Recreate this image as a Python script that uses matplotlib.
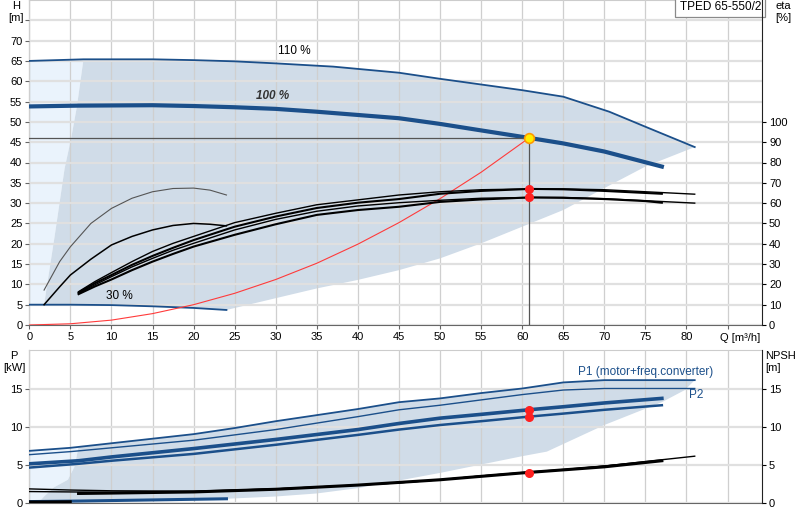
import numpy as np
import matplotlib
matplotlib.use('Agg')
import matplotlib.pyplot as plt

plt.rcParams['font.family'] = ['Liberation Sans', 'DejaVu Sans']
plt.rcParams['font.size'] = 8

BLUE = '#1b4f8a'
SHADE = '#d0dce8'
LIGHT = '#eaf3fc'

# ---- top chart: head curves (Q in m3/h, H in m)
h110_q = [0, 6.6, 15, 20, 25, 30, 37, 45, 50, 55, 60, 65, 70.6, 75, 81]
h110_h = [65.0, 65.4, 65.4, 65.2, 64.9, 64.4, 63.6, 62.1, 60.6, 59.2, 57.8, 56.2, 52.5, 48.8, 43.8]
h100_q = [0, 6, 15, 20, 25, 30, 35, 40, 45, 50, 55, 61, 65, 70, 77]
h100_h = [53.8, 54.0, 54.1, 53.9, 53.6, 53.2, 52.5, 51.7, 50.9, 49.5, 47.9, 46.0, 44.7, 42.7, 39.0]
h30_q = [0, 5, 10, 15, 20, 24]
h30_h = [5.0, 5.0, 4.9, 4.6, 4.2, 3.7]

# operating range edges
area_low_q = [24, 30, 35, 40, 45, 50, 55, 60, 65, 70, 75, 81]
area_low_h = [3.7, 6.6, 9.0, 11.1, 13.5, 16.4, 20.1, 24.2, 28.3, 33.7, 39.0, 43.8]
area_left_q = [1.8, 3.1, 4.3, 5.1, 5.8, 6.6]
area_left_h = [5.0, 22.0, 38.5, 46.0, 53.8, 65.4]

# system curve
sys_q = [0, 5, 10, 15, 20, 25, 30, 35, 40, 45, 50, 55, 60.8]
sys_h = [0, 0.3, 1.2, 2.8, 5.0, 7.8, 11.2, 15.2, 19.9, 25.2, 31.1, 37.6, 46.0]

duty_q = 60.8
duty_h = 46.0

# efficiency curves (eta in %)
etaA_q = [1.8, 3.7, 5, 7.5, 10, 12.5, 15, 17.5, 20, 22, 24]
etaA = [17.2, 31.2, 38.5, 50.0, 57.4, 62.4, 65.6, 67.2, 67.4, 66.4, 64.0]
etaB_q = [1.8, 3.7, 5, 7.5, 10, 12.5, 15, 17.5, 20, 22, 24]
etaB = [10.0, 18.8, 24.6, 32.4, 39.4, 43.6, 46.8, 49.0, 50.0, 49.6, 48.8]
eta_q81 = [6, 8, 10, 12.5, 15, 17.5, 20, 25, 30, 35, 40, 45, 50, 55, 61, 65, 70, 75, 81]
eta_q77 = [6, 8, 10, 12.5, 15, 17.5, 20, 25, 30, 35, 40, 45, 50, 55, 61, 65, 70, 75, 77]
etaU1 = [16.4, 21.4, 25.8, 31.2, 36.2, 40.2, 43.6, 50.4, 55.0, 59.2, 61.6, 64.0, 65.6, 66.6, 67.0, 67.0, 66.6, 65.6, 64.4]
etaU2 = [16.0, 20.6, 24.6, 29.6, 34.0, 38.0, 41.8, 48.4, 53.4, 57.6, 60.2, 62.0, 64.6, 66.0, 67.0, 66.8, 66.0, 65.0, 64.6]
etaL1 = [15.6, 19.8, 23.8, 28.6, 32.8, 36.8, 40.2, 46.8, 52.0, 56.0, 58.6, 60.2, 61.4, 62.4, 62.8, 62.8, 62.2, 61.2, 60.0]
etaL2 = [15.2, 19.0, 22.4, 27.0, 31.2, 35.0, 38.6, 44.4, 49.6, 54.2, 56.6, 58.2, 60.6, 61.8, 62.8, 62.6, 62.0, 61.0, 60.2]
eta_duty = [67.0, 62.8]

# ---- bottom chart: power (kW) and NPSH (m)
p1_110_q = [0, 5, 10, 15, 20, 25, 30, 35, 40, 45, 50, 55, 60, 65, 70, 81]
p1_110 = [6.8, 7.2, 7.8, 8.4, 9.0, 9.8, 10.7, 11.5, 12.3, 13.2, 13.7, 14.4, 15.0, 15.8, 16.1, 16.1]
p2_110_q = [0, 5, 10, 20, 30, 40, 45, 50, 55, 60, 65, 70, 81]
p2_110 = [6.3, 6.7, 7.2, 8.2, 9.6, 11.3, 12.2, 12.8, 13.5, 14.2, 14.8, 15.0, 15.0]
p100_q = [0, 6, 10, 20, 30, 40, 45, 50, 55, 60.8, 65, 70, 77]
p1_100 = [5.1, 5.5, 6.0, 7.1, 8.3, 9.6, 10.4, 11.1, 11.6, 12.2, 12.6, 13.1, 13.7]
p2_100 = [4.6, 5.1, 5.5, 6.4, 7.6, 8.9, 9.6, 10.2, 10.7, 11.3, 11.7, 12.2, 12.8]
p30_q = [0, 6, 12, 18, 24]
p30 = [0.13, 0.2, 0.3, 0.4, 0.5]
p_duty = [12.2, 11.3]

parea_low_q = [24, 30, 35, 40, 45, 50, 55, 60, 63, 70, 77, 79.8, 81]
parea_low = [0.5, 0.8, 1.2, 1.9, 2.9, 3.9, 5.0, 6.1, 6.7, 10.2, 13.2, 14.8, 16.1]
pleft_q = [1.3, 1.8, 3.0, 4.7, 5.5, 6.0]
pleft = [0.2, 0.8, 2.0, 3.0, 4.7, 7.3]

npsh_q81 = [0, 5, 10, 20, 30, 40, 45, 50, 55, 60, 65, 70, 75, 81]
npsh_110 = [1.8, 1.65, 1.55, 1.5, 1.8, 2.3, 2.6, 3.0, 3.5, 3.9, 4.3, 4.8, 5.4, 6.1]
npsh_q77 = [0, 5, 10, 20, 30, 40, 45, 50, 55, 60, 65, 70, 75, 77]
npsh_100 = [1.45, 1.4, 1.35, 1.45, 1.8, 2.3, 2.6, 3.0, 3.5, 3.95, 4.35, 4.8, 5.3, 5.5]
npsh_thick_q = [6, 10, 20, 30, 40, 50, 60, 70, 77]
npsh_thick = [1.2, 1.25, 1.4, 1.75, 2.3, 3.0, 3.9, 4.7, 5.5]
npsh30_q = [0, 2, 5]
npsh30 = [0.1, 0.1, 0.12]
npsh_duty = 3.95

q_ticks = list(range(0, 90, 5))


def style(ax):
    ax.set_xlim(0, 89.2)
    ax.set_xticks(q_ticks)
    ax.set_axisbelow(False)
    ax.xaxis.grid(True, color='#cfcfcf', lw=0.9)
    ax.yaxis.grid(True, color='#e0e0e0', lw=1.6)
    for s in ['left', 'bottom']:
        ax.spines[s].set_color('#666666')
    ax.spines['top'].set_color('#cccccc')
    ax.spines['right'].set_visible(False)
    ax.tick_params(length=3, color='#666666', labelsize=8, pad=2)


fig = plt.figure(figsize=(8, 5.2), dpi=100)

# ================= top chart
ax = fig.add_axes([0.0366, 0.375, 0.916, 0.625])
style(ax)
ax.set_ylim(0, 80)
ax.set_yticks(range(0, 80, 5))
ax.set_yticklabels([str(v) if v <= 70 else '' for v in range(0, 80, 5)])
ax.set_xticklabels([str(v) if v <= 80 else '' for v in q_ticks])

# light range at small flow
lx = [h110_q[0], h110_q[1]] + area_left_q[::-1] + [h30_q[0]]
ly = [h110_h[0], h110_h[1]] + area_left_h[::-1] + [h30_h[0]]
ax.fill(lx, ly, color=LIGHT, lw=0, zorder=1)

# operating range
top_q = [q for q in h110_q if q >= 6.6]
top_h = [h for q, h in zip(h110_q, h110_h) if q >= 6.6]
b30_q = [q for q in h30_q if q >= 5][::-1]
b30_h = [h for q, h in zip(h30_q, h30_h) if q >= 5][::-1]
px = top_q + area_low_q[::-1] + b30_q + area_left_q
py = top_h + area_low_h[::-1] + b30_h + area_left_h
ax.fill(px, py, color=SHADE, lw=0, zorder=1)

ax.plot(h110_q, h110_h, color=BLUE, lw=1.3, zorder=3)
ax.plot(h100_q, h100_h, color=BLUE, lw=3.0, zorder=3)
ax.plot(h30_q, h30_h, color=BLUE, lw=1.3, zorder=3)
ax.plot(sys_q, sys_h, color='#ff3b3b', lw=0.8, zorder=3)
ax.plot([0, duty_q], [duty_h, duty_h], color='#555555', lw=0.9, zorder=3)
ax.plot([duty_q, duty_q], [0, duty_h], color='#555555', lw=0.9, zorder=3)

ax.text(32.3, 67.5, '110 %', ha='center', va='center', fontsize=8.5, zorder=4)
ax.text(29.6, 56.3, '100 %', ha='center', va='center', fontsize=8.5,
        fontstyle='italic', fontweight='bold', color='#333333', zorder=4)
ax.text(11.0, 7.2, '30 %', ha='center', va='center', fontsize=8.5, zorder=4)
ax.text(86.5, -1.9, 'Q [m\u00b3/h]', ha='center', va='top', fontsize=8)

ax.text(0.9985, 0.997, 'TPED 65-550/2', transform=ax.transAxes, ha='right', va='top',
        fontsize=8.5, zorder=6,
        bbox=dict(boxstyle='square,pad=0.35', fc='white', ec='#8a8a8a', lw=0.9))

# efficiency axis
ax_eta = ax.twinx()
ax_eta.set_ylim(0, 160)
ax_eta.set_yticks(range(0, 110, 10))
ax_eta.spines['right'].set_color('#222222')
ax_eta.spines['top'].set_visible(False)
ax_eta.spines['left'].set_visible(False)
ax_eta.spines['bottom'].set_visible(False)
ax_eta.tick_params(length=3, labelsize=8, pad=2)

ax_eta.plot(etaA_q, etaA, color='#555555', lw=0.8)
ax_eta.plot(etaB_q, etaB, color='black', lw=1.1)
ax_eta.plot(eta_q81, etaU1, color='black', lw=1.0)
ax_eta.plot(eta_q77, etaU2, color='black', lw=1.5)
ax_eta.plot(eta_q81, etaL1, color='black', lw=1.0)
ax_eta.plot(eta_q77, etaL2, color='black', lw=1.5)
ax_eta.plot([duty_q] * 2, eta_duty, 'o', color='#ff2020', ms=5.5, mec='#ff2020', zorder=5)
ax_eta.plot([duty_q], [duty_h * 2], 'o', color='#ffee00', mec='#ff9900', ms=7, mew=1.2, zorder=6)

fig.text(16 / 800, 1 - 1 / 520, 'H\n[m]', ha='center', va='top', fontsize=8, linespacing=1.25)
fig.text(775 / 800, 1 - 1 / 520, 'eta\n[%]', ha='left', va='top', fontsize=8, linespacing=1.25)

# ================= bottom chart
ax2 = fig.add_axes([0.0366, 0.0335, 0.916, 0.2925])
style(ax2)
ax2.set_ylim(0, 20)
ax2.set_yticks([0, 5, 10, 15])
ax2.set_xticklabels([])
ax2.tick_params(axis='x', length=0)

# light range at small flow
plx = [p1_110_q[0]] + pleft_q[::-1] + [p30_q[0]]
ply = [p1_110[0]] + pleft[::-1] + [p30[0]]
ax2.fill(plx, ply, color=LIGHT, lw=0, zorder=1)

# operating range
ptop_q = [q for q in p1_110_q if q >= 10]
ptop = [p for q, p in zip(p1_110_q, p1_110) if q >= 10]
pb_q = [q for q in p30_q if q >= 6][::-1]
pb = [p for q, p in zip(p30_q, p30) if q >= 6][::-1]
ax2.fill([pleft_q[-1]] + ptop_q + parea_low_q[::-1] + pb_q + pleft_q[:-1],
         [pleft[-1]] + ptop + parea_low[::-1] + pb + pleft[:-1],
         color=SHADE, lw=0, zorder=1)

ax2.plot(p1_110_q, p1_110, color=BLUE, lw=1.3, zorder=3)
ax2.plot(p2_110_q, p2_110, color=BLUE, lw=1.0, zorder=3)
ax2.plot(p100_q, p1_100, color=BLUE, lw=2.6, zorder=3)
ax2.plot(p100_q, p2_100, color=BLUE, lw=1.8, zorder=3)
ax2.plot(p30_q, p30, color=BLUE, lw=2.2, zorder=3)
ax2.plot([duty_q] * 2, p_duty, 'o', color='#ff2020', ms=5.5, zorder=5)

ax2.text(75.0, 17.2, 'P1 (motor+freq.converter)', ha='center', va='center',
         fontsize=8.5, color=BLUE, zorder=4)
ax2.text(81.2, 14.1, 'P2', ha='center', va='center', fontsize=8.5, color=BLUE, zorder=4)

ax_n = ax2.twinx()
ax_n.set_ylim(0, 20)
ax_n.set_yticks([0, 5, 10, 15])
ax_n.spines['right'].set_color('#222222')
for s in ['top', 'left', 'bottom']:
    ax_n.spines[s].set_visible(False)
ax_n.tick_params(length=3, labelsize=8, pad=2)
ax_n.plot(npsh_q81, npsh_110, color='black', lw=1.0)
ax_n.plot(npsh_q77, npsh_100, color='black', lw=1.0)
ax_n.plot(npsh_thick_q, npsh_thick, color='black', lw=2.2)
ax_n.plot(npsh30_q, npsh30, color='black', lw=2.0)
ax_n.plot([duty_q], [npsh_duty], 'o', color='#ff2020', ms=5.5, zorder=5)

fig.text(14 / 800, 1 - 351 / 520, 'P\n[kW]', ha='center', va='top', fontsize=8, linespacing=1.25)
fig.text(765 / 800, 1 - 351 / 520, 'NPSH\n[m]', ha='left', va='top', fontsize=8, linespacing=1.25)

plt.savefig('out.png', dpi=100)
